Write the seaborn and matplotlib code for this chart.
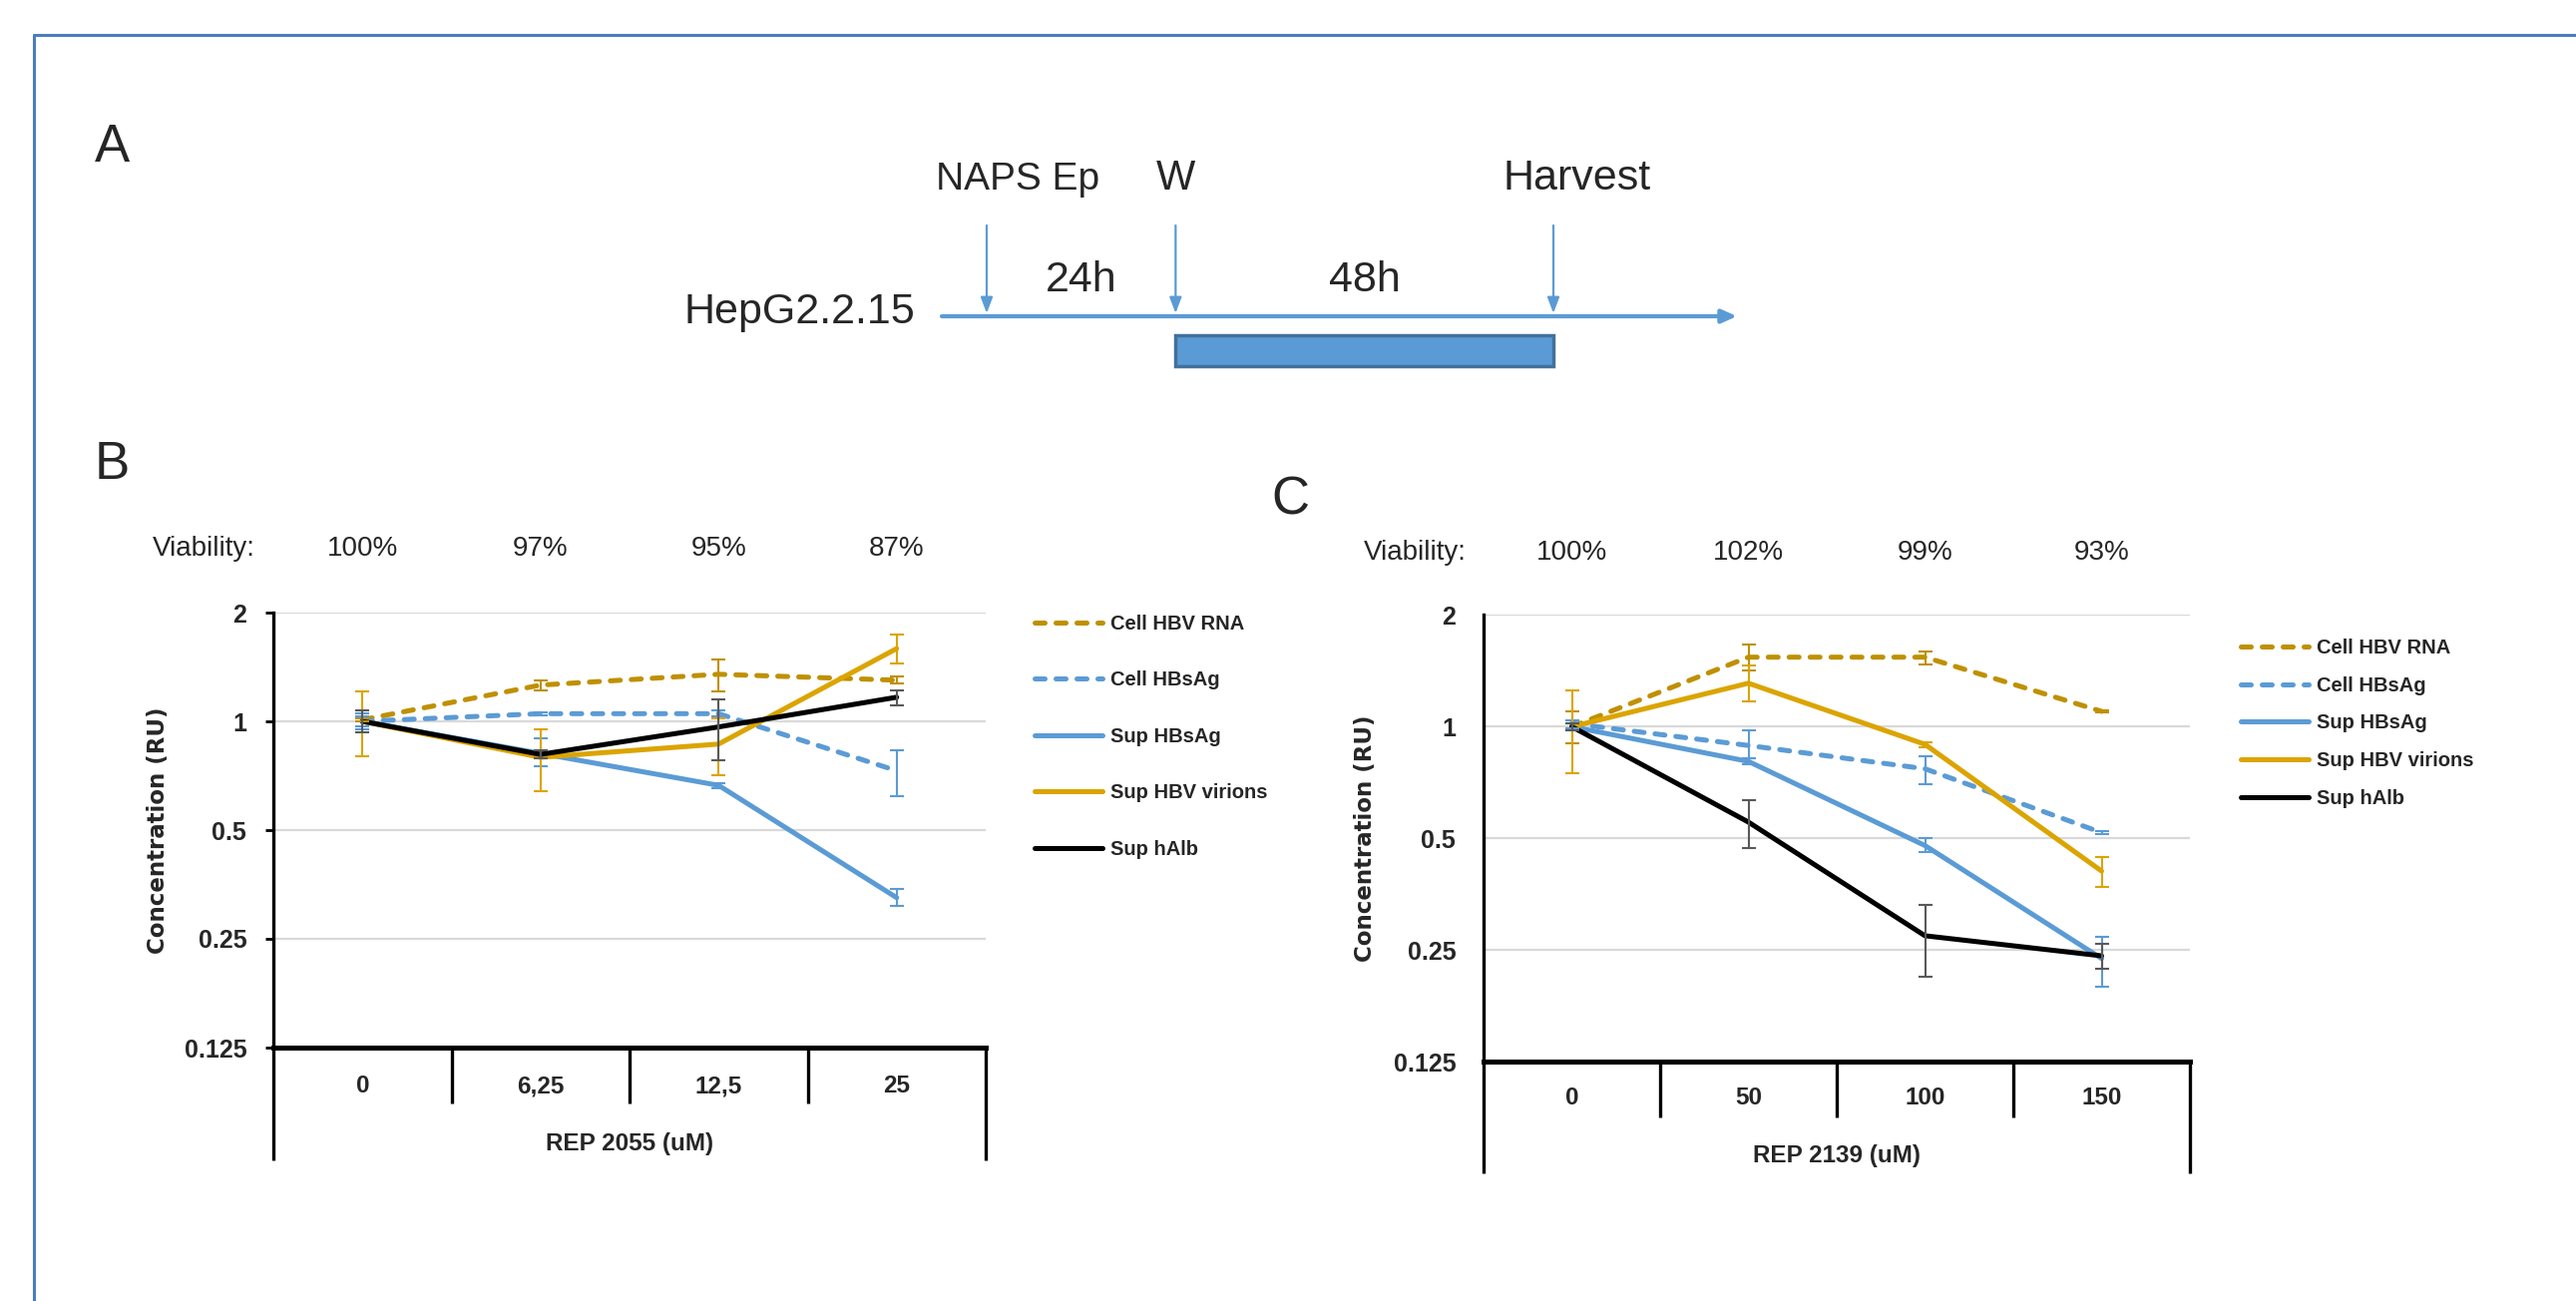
import numpy as np
import pandas as pd
import matplotlib
matplotlib.use("Agg")
import matplotlib.pyplot as plt
import seaborn as sns
from matplotlib.lines import Line2D

sns.set_theme(style="white")
plt.rcParams["font.family"] = ["Liberation Sans", "DejaVu Sans"]

# ---------------- data ----------------
series_names = ["Cell HBV RNA", "Cell HBsAg", "Sup HBsAg", "Sup HBV virions", "Sup hAlb"]

# Panel B : REP 2055
b_doses = ["0", "6,25", "12,5", "25"]
b_viability = ["100%", "97%", "95%", "87%"]
b_cell_rna = [1.01, 1.26, 1.35, 1.30]
b_cell_rna_lo = [1.00, 1.22, 1.21, 1.27]
b_cell_rna_hi = [1.02, 1.30, 1.48, 1.33]
b_cell_hbsag = [1.00, 1.05, 1.05, 0.73]
b_cell_hbsag_lo = [0.97, 1.04, 1.03, 0.62]
b_cell_hbsag_hi = [1.03, 1.06, 1.07, 0.83]
b_sup_hbsag = [1.00, 0.815, 0.665, 0.325]
b_sup_hbsag_lo = [0.95, 0.75, 0.655, 0.308]
b_sup_hbsag_hi = [1.05, 0.90, 0.675, 0.344]
b_sup_virions = [1.00, 0.795, 0.865, 1.59]
b_sup_virions_lo = [0.80, 0.64, 0.71, 1.45]
b_sup_virions_hi = [1.21, 0.95, 1.02, 1.74]
b_sup_halb = [1.00, 0.81, 0.965, 1.166]
b_sup_halb_lo = [0.93, 0.79, 0.78, 1.11]
b_sup_halb_hi = [1.07, 0.83, 1.15, 1.22]

# Panel C : REP 2139
c_doses = ["0", "50", "100", "150"]
c_viability = ["100%", "102%", "99%", "93%"]
c_cell_rna = [1.00, 1.54, 1.54, 1.10]
c_cell_rna_lo = [0.90, 1.42, 1.47, 1.09]
c_cell_rna_hi = [1.10, 1.67, 1.60, 1.11]
c_cell_hbsag = [1.02, 0.89, 0.77, 0.518]
c_cell_hbsag_lo = [0.99, 0.82, 0.70, 0.513]
c_cell_hbsag_hi = [1.04, 0.98, 0.83, 0.523]
c_sup_hbsag = [1.00, 0.806, 0.478, 0.237]
c_sup_hbsag_lo = [0.98, 0.79, 0.459, 0.199]
c_sup_hbsag_hi = [1.02, 0.82, 0.50, 0.272]
c_sup_virions = [1.00, 1.31, 0.896, 0.408]
c_sup_virions_lo = [0.75, 1.17, 0.88, 0.369]
c_sup_virions_hi = [1.25, 1.46, 0.91, 0.444]
c_sup_halb = [1.00, 0.553, 0.273, 0.241]
c_sup_halb_lo = [0.98, 0.47, 0.212, 0.223]
c_sup_halb_hi = [1.02, 0.634, 0.331, 0.259]

y_ticks = [0.125, 0.25, 0.5, 1, 2]
y_tick_labels = ["0.125", "0.25", "0.5", "1", "2"]

# Panel A : timeline (hours)
event_names = ["NAPS Ep", "W", "Harvest"]
event_hours = [0, 24, 72]
event_label_hours = [4, 24, 75]
interval_labels = ["24h", "48h"]
cell_line = "HepG2.2.15"

# ---------------- styles ----------------
BLUE = "#5B9BD5"
GOLD_D = "#BF9000"
GOLD = "#DBA400"
colors = {"Cell HBV RNA": GOLD_D, "Cell HBsAg": BLUE, "Sup HBsAg": BLUE,
          "Sup HBV virions": GOLD, "Sup hAlb": "#000000"}
err_colors = {"Cell HBV RNA": GOLD_D, "Cell HBsAg": BLUE, "Sup HBsAg": BLUE,
              "Sup HBV virions": GOLD, "Sup hAlb": "#595959"}
DASH = (2.0, 2.2)
dash_map = {"Cell HBV RNA": DASH, "Cell HBsAg": DASH, "Sup HBsAg": "",
            "Sup HBV virions": "", "Sup hAlb": ""}
LW = 3.6

W, H, DPI = 2582, 1304, 100
fig = plt.figure(figsize=(W / DPI, H / DPI), dpi=DPI)
fig.patch.set_facecolor("white")


def px_axes(l, t, r, b):
    return fig.add_axes([l / W, 1 - b / H, (r - l) / W, (b - t) / H])


def draw_panel(ax, doses, vals, los, his, viability, xlabel, box_h,
               ytick_len, ypad, xpad, xlabel_off, via_off, inner_px, outer_px, ylab_x):
    x = np.arange(len(doses))
    rows = []
    for s in series_names:
        for xi, v in zip(x, vals[s]):
            rows.append({"x": xi, "value": v, "series": s})
    df = pd.DataFrame(rows)
    sns.lineplot(data=df, x="x", y="value", hue="series", style="series",
                 hue_order=series_names, style_order=series_names,
                 palette=colors, dashes=dash_map, linewidth=LW, legend=False,
                 errorbar=None, sort=False, ax=ax,
                 dash_capstyle="round", solid_capstyle="round", solid_joinstyle="round")
    for s in series_names:
        v = np.array(vals[s]); lo = np.array(los[s]); hi = np.array(his[s])
        ax.errorbar(x, v, yerr=[v - lo, hi - v], fmt="none", ecolor=err_colors[s],
                    elinewidth=1.5, capsize=5, capthick=1.5, zorder=3)
    ax.set_yscale("log", base=2)
    ax.set_ylim(0.125, 2)
    ax.set_xlim(-0.5, len(doses) - 0.5)
    ax.set_yticks(y_ticks)
    ax.set_yticklabels(y_tick_labels, fontweight="bold", fontsize=18)
    ax.minorticks_off()
    ax.set_xticks(x)
    ax.set_xticklabels(doses, fontweight="bold", fontsize=17.5)
    ax.tick_params(axis="x", length=0, pad=xpad, bottom=True)
    ax.tick_params(axis="y", length=ytick_len, width=2, color="black", pad=ypad, left=True)
    ax.grid(axis="y", color="#D9D9D9", lw=1.6)
    ax.grid(axis="x", visible=False)
    ax.set_axisbelow(True)
    ax.set_xlabel(""); ax.set_ylabel("")
    for sp in ["top", "right"]:
        ax.spines[sp].set_visible(False)
    ax.spines["left"].set_color("black"); ax.spines["left"].set_linewidth(2.4)
    ax.spines["bottom"].set_color("black"); ax.spines["bottom"].set_linewidth(3.6)
    ax.spines["bottom"].set_zorder(4)
    tr = ax.get_xaxis_transform()
    n = len(doses)
    for b in np.arange(0.5, n - 0.5, 1.0):
        ax.plot([b, b], [0, -inner_px / box_h], transform=tr, color="black", lw=2.4,
                clip_on=False, solid_capstyle="butt")
    for b in [-0.5, n - 0.5]:
        ax.plot([b, b], [0, -outer_px / box_h], transform=tr, color="black", lw=2.4,
                clip_on=False, solid_capstyle="butt")
    ax.text(0.5, -xlabel_off / box_h, xlabel, transform=ax.transAxes, ha="center",
            va="center", fontsize=17.5, fontweight="bold")
    for xi, t in zip(x, viability):
        ax.text(xi, 1 + via_off / box_h, t, transform=tr, ha="center", va="center", fontsize=20)
    ax.text(-0.89, 1 + via_off / box_h, "Viability:", transform=tr, ha="center",
            va="center", fontsize=20)
    ax.text(ylab_x, 0.5, "Concentration (RU)", transform=ax.transAxes, rotation=90,
            ha="center", va="center", fontsize=16.5, fontweight="bold", family="DejaVu Sans")


b_vals = {"Cell HBV RNA": b_cell_rna, "Cell HBsAg": b_cell_hbsag, "Sup HBsAg": b_sup_hbsag,
          "Sup HBV virions": b_sup_virions, "Sup hAlb": b_sup_halb}
b_los = {"Cell HBV RNA": b_cell_rna_lo, "Cell HBsAg": b_cell_hbsag_lo, "Sup HBsAg": b_sup_hbsag_lo,
         "Sup HBV virions": b_sup_virions_lo, "Sup hAlb": b_sup_halb_lo}
b_his = {"Cell HBV RNA": b_cell_rna_hi, "Cell HBsAg": b_cell_hbsag_hi, "Sup HBsAg": b_sup_hbsag_hi,
         "Sup HBV virions": b_sup_virions_hi, "Sup hAlb": b_sup_halb_hi}
c_vals = {"Cell HBV RNA": c_cell_rna, "Cell HBsAg": c_cell_hbsag, "Sup HBsAg": c_sup_hbsag,
          "Sup HBV virions": c_sup_virions, "Sup hAlb": c_sup_halb}
c_los = {"Cell HBV RNA": c_cell_rna_lo, "Cell HBsAg": c_cell_hbsag_lo, "Sup HBsAg": c_sup_hbsag_lo,
         "Sup HBV virions": c_sup_virions_lo, "Sup hAlb": c_sup_halb_lo}
c_his = {"Cell HBV RNA": c_cell_rna_hi, "Cell HBsAg": c_cell_hbsag_hi, "Sup HBsAg": c_sup_hbsag_hi,
         "Sup HBV virions": c_sup_virions_hi, "Sup hAlb": c_sup_halb_hi}

axB = px_axes(274, 614, 988, 1050)
draw_panel(axB, b_doses, b_vals, b_los, b_his, b_viability, "REP 2055 (uM)", 436,
           ytick_len=5.8, ypad=13.5, xpad=19.5, xlabel_off=97, via_off=64,
           inner_px=56, outer_px=113, ylab_x=(159 - 274) / 714)

axC = px_axes(1487, 616.5, 2195, 1064)
draw_panel(axC, c_doses, c_vals, c_los, c_his, c_viability, "REP 2139 (uM)", 447.5,
           ytick_len=0, ypad=20, xpad=18, xlabel_off=94, via_off=62.5,
           inner_px=56, outer_px=112, ylab_x=(1368 - 1487) / 708)

# legends
def make_handles():
    hs = []
    for s in series_names:
        if dash_map[s]:
            hs.append(Line2D([], [], color=colors[s], lw=LW, dashes=dash_map[s],
                             dash_capstyle="round"))
        else:
            hs.append(Line2D([], [], color=colors[s], lw=LW, ls="-", solid_capstyle="round"))
    return hs

fig.legend(make_handles(), series_names, loc="upper left", bbox_to_anchor=(1037 / W, 1 - 616 / H),
           frameon=False, prop=dict(weight="bold", size=14.5), handlelength=3.4,
           handletextpad=0.35, labelspacing=1.86, borderpad=0, borderaxespad=0)
fig.legend(make_handles(), series_names, loc="upper left", bbox_to_anchor=(2246 / W, 1 - 640 / H),
           frameon=False, prop=dict(weight="bold", size=14.5), handlelength=3.4,
           handletextpad=0.35, labelspacing=0.93, borderpad=0, borderaxespad=0)

# ---------------- Panel A timeline ----------------
axA = px_axes(900, 140, 1800, 390)
PX0, PXH = 989, 7.889  # pixel of hour 0, pixels per hour
axA.set_xlim((900 - PX0) / PXH, (1800 - PX0) / PXH)
axA.set_ylim(390, 140)
axA.axis("off")
t_start, t_end = (944 - PX0) / PXH, (1741 - PX0) / PXH
axA.annotate("", xy=(t_end, 317), xytext=(t_start, 317),
             arrowprops=dict(arrowstyle="-|>,head_length=0.9,head_width=0.4", color=BLUE,
                             lw=3, shrinkA=0, shrinkB=0, mutation_scale=10))
for h in event_hours:
    axA.annotate("", xy=(h, 314), xytext=(h, 226),
                 arrowprops=dict(arrowstyle="-|>,head_length=0.95,head_width=0.36", color=BLUE,
                                 lw=1.6, shrinkA=0, shrinkB=0, mutation_scale=10))
event_sizes = [28, 30, 31]
for name, hx, fs in zip(event_names, event_label_hours, event_sizes):
    axA.text(hx, 190, name, ha="center", va="baseline", fontsize=fs)
for lab, a, b in zip(interval_labels, event_hours[:-1], event_hours[1:]):
    axA.text((a + b) / 2, 292, lab, ha="center", va="baseline", fontsize=31)
axA.text((917 - PX0) / PXH, 324, cell_line, ha="right", va="baseline", fontsize=31)
axA.barh(352, event_hours[2] - event_hours[1], left=event_hours[1], height=31,
         color=BLUE, edgecolor="#41719C", linewidth=2.5)

# panel letters
for letter, (px, py) in zip(["A", "B", "C"], [(112, 148), (112, 466), (1293, 502)]):
    fig.text(px / W, 1 - py / H, letter, ha="center", va="center", fontsize=38)

# outer frame (left and top edges)
fcol = "#4A7EBB"
fig.add_artist(Line2D([33.5 / W, 33.5 / W], [0, 1 - 35 / H], color=fcol, lw=2.2,
                      transform=fig.transFigure))
fig.add_artist(Line2D([33.5 / W, 1], [1 - 35 / H, 1 - 35 / H], color=fcol, lw=2.2,
                      transform=fig.transFigure))

fig.savefig("out.png", dpi=DPI, facecolor="white")
